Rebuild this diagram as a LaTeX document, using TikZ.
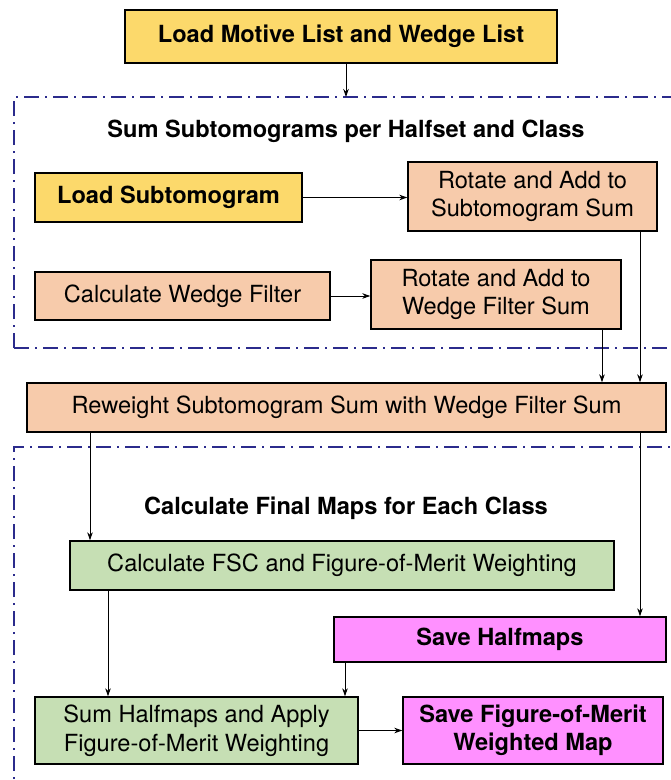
\documentclass[tikz,border=0pt]{standalone}
\usepackage{fontspec}
\setmainfont{TeX Gyre Heros}
\usetikzlibrary{arrows.meta}
\definecolor{cyel}{HTML}{FCD96B}
\definecolor{cpeach}{HTML}{F7CBAB}
\definecolor{cgreen}{HTML}{C6DFB4}
\definecolor{cmag}{HTML}{FF90FF}
\definecolor{cnavy}{HTML}{2B2B8C}
\tikzset{
  box/.style={draw=black, line width=1.4pt, inner sep=1pt, align=center, font=\fontsize{23.6}{28.5}\selectfont},
  yel/.style={box, fill=cyel, font=\fontsize{23.6}{28.5}\selectfont\bfseries},
  peach/.style={box, fill=cpeach},
  green/.style={box, fill=cgreen},
  mag/.style={box, fill=cmag, font=\fontsize{23.6}{28.5}\selectfont\bfseries},
  title/.style={font=\fontsize{23.6}{28}\selectfont\bfseries},
  frame/.style={draw=cnavy, line width=2pt, dash pattern=on 15pt off 6pt on 2pt off 6pt},
  arr/.style={draw=black, line width=0.9pt, -{Stealth[length=8pt,width=5.5pt]}},
}
\begin{document}
\begin{tikzpicture}[x=1pt,y=-1pt]
\useasboundingbox (0,0) rectangle (671,780);
% frames
\draw[frame] (14,348) -- (14,97) -- (720,97);
\draw[frame] (14,348) -- (720,348);
\draw[frame] (14,800) -- (14,447) -- (720,447);
\node[title] (t1) at (346,131) {Sum Subtomograms per Halfset and Class};
\node[title] (t2) at (346,508) {Calculate Final Maps for Each Class};
% boxes
\node[yel, minimum width=432pt, minimum height=53pt] (b1) at (341,36.5) {Load Motive List and Wedge List};
\node[yel, minimum width=267pt, minimum height=49pt] (b2) at (168.5,197.5) {Load Subtomogram};
\node[peach, minimum width=249pt, minimum height=69pt] (b3) at (532.5,196.5) {Rotate and Add to\\Subtomogram Sum};
\node[peach, minimum width=295pt, minimum height=48pt] (b4) at (182.5,296) {Calculate Wedge Filter};
\node[peach, minimum width=250pt, minimum height=69pt] (b5) at (496,294.5) {Rotate and Add to\\Wedge Filter Sum};
\node[peach, minimum width=639pt, minimum height=49pt] (b6) at (346.5,407.5) {Reweight Subtomogram Sum with Wedge Filter Sum};
\node[green, minimum width=544pt, minimum height=49pt] (b7) at (342,565.5) {Calculate FSC and Figure-of-Merit Weighting};
\node[mag, minimum width=332pt, minimum height=45pt] (b8) at (500,639.5) {Save Halfmaps};
\node[green, minimum width=323pt, minimum height=67pt] (b9) at (196.5,730.5) {Sum Halfmaps and Apply\\Figure-of-Merit Weighting};
\node[mag, minimum width=260pt, minimum height=67pt] (b10) at (533,730.5) {Save Figure-of-Merit\\Weighted Map};
% column coordinates
\coordinate (c346) at (346,0);
\coordinate (c602) at (602,0);
\coordinate (c640) at (640,0);
\coordinate (c90) at (90,0);
\coordinate (c108) at (108,0);
\coordinate (c345) at (345,0);
\coordinate (ftop) at (346,97);
% arrows
\draw[arr] (b1.south -| c346) -- (ftop);
\draw[arr] (b2.east) -- (b2.east -| b3.west);
\draw[arr] (b4.east) -- (b4.east -| b5.west);
\draw[arr] (b5.south -| c602) -- (b6.north -| c602);
\draw[arr] (b3.south -| c640) -- (b6.north -| c640);
\draw[arr] (b6.south -| c90) -- (b7.north -| c90);
\draw[arr] (b6.south -| c640) -- (b8.north -| c640);
\draw[arr] (b7.south -| c108) -- (b9.north -| c108);
\draw[arr] (b8.south -| c345) -- (b9.north -| c345);
\draw[arr] (b9.east) -- (b10.west);
\end{tikzpicture}
\end{document}
